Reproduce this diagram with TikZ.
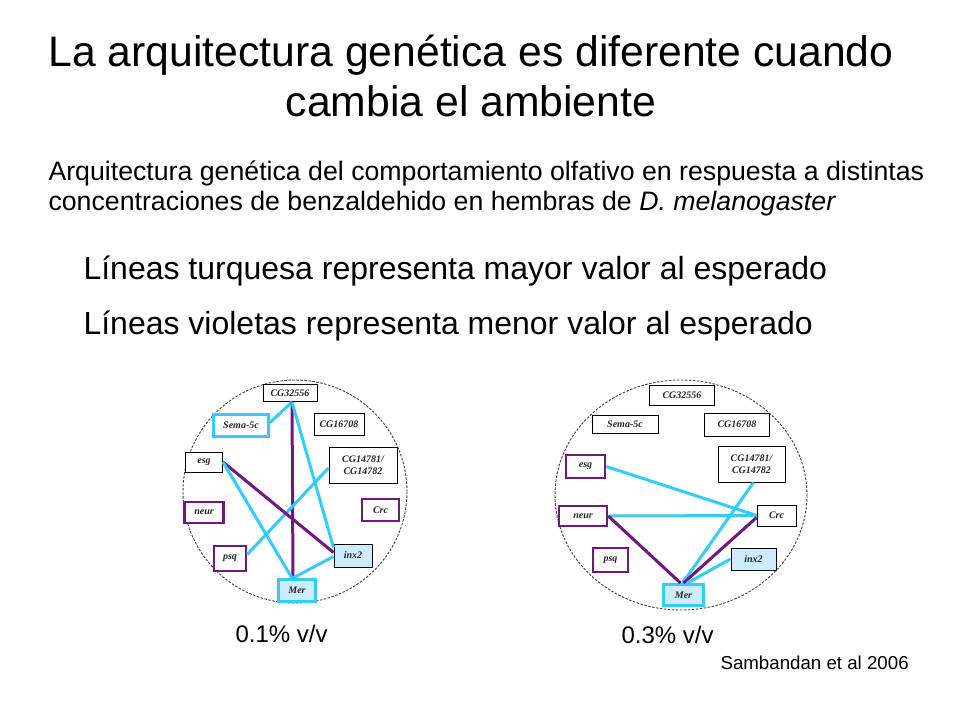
\documentclass[tikz,border=0pt]{standalone}
\usepackage{fontspec}
\setmainfont{Liberation Sans}
\newfontfamily\gfont{Liberation Serif}
\begin{document}
\begin{tikzpicture}[x=1pt,y=-1pt]
\definecolor{turq}{RGB}{51,204,255}
\definecolor{viol}{RGB}{112,24,128}
\definecolor{lblue}{RGB}{204,236,255}
\tikzset{
  gbox/.style={draw=black,line width=1pt,fill=white,inner sep=0pt,font=\gfont\bfseries\itshape\fontsize{10}{11.5}\selectfont,text=black!85,align=center},
  vbox/.style={gbox,draw=viol,line width=2.5pt},
  tbox/.style={gbox,draw=turq,line width=3pt},
  ibox/.style={gbox,fill=lblue},
  mbox/.style={gbox,draw=turq,line width=3pt,fill=lblue},
  tline/.style={draw=turq,line width=3pt},
  vline/.style={draw=viol,line width=3pt},
  ring/.style={draw=black!75,line width=0.9pt,dash pattern=on 2.5pt off 1.5pt},
  ttl/.style={anchor=base,font=\fontsize{42.7}{48}\selectfont},
  sub/.style={anchor=base west,font=\fontsize{26.7}{30}\selectfont},
  leg/.style={anchor=base west,font=\fontsize{32}{36}\selectfont},
  pcap/.style={anchor=base west,font=\fontsize{24}{28}\selectfont}
}
\useasboundingbox (0,0) rectangle (960,720);
\fill[white] (0,0) rectangle (960,720);

% texts
\node[ttl] (t1) at (471,66) {La arquitectura genética es diferente cuando};
\node[ttl] (t2) at (471,116) {cambia el ambiente};
\node[sub] (s1) at (45,180) {Arquitectura genética del comportamiento olfativo en respuesta a distintas};
\node[sub] (s2) at (45,210) {concentraciones de benzaldehido en hembras de \textit{D. melanogaster}};
\node[leg] (l1) at (80,279) {Líneas turquesa representa mayor valor al esperado};
\node[leg] (l2) at (80,334) {Líneas violetas representa menor valor al esperado};
\node[pcap] (c1) at (232,642) {0.1\% v/v};
\node[pcap] (c2) at (618,643) {0.3\% v/v};
\node[anchor=base west,font=\fontsize{18.7}{21}\selectfont] (ref) at (717,669) {Sambandan et al 2006};

% circles
\draw[ring] (295,491.5) ellipse [x radius=112, y radius=111.5];
\draw[ring] (681,495) ellipse [x radius=126, y radius=115];

% left network
\node[gbox,minimum width=54,minimum height=17] (lCG) at (290,393) {CG32556};
\node[tbox,minimum width=55,minimum height=22] (lSema) at (241,425.5) {Sema-5c};
\node[gbox,minimum width=50,minimum height=22] (lCG16) at (339,424) {CG16708};
\node[gbox,minimum width=68,minimum height=36] (lCG14) at (363,465) {CG14781/\\CG14782};
\node[gbox,minimum width=37,minimum height=20] (lEsg) at (204,462) {esg};
\node[vbox,minimum width=39,minimum height=21] (lNeur) at (204,512.5) {neur};
\node[vbox,minimum width=37,minimum height=22] (lCrc) at (380.5,510) {Crc};
\node[vbox,minimum width=32,minimum height=25] (lPsq) at (230,558.5) {psq};
\node[ibox,minimum width=38,minimum height=23] (lInx) at (353,555.5) {inx2};
\node[mbox,minimum width=37,minimum height=22] (lMer) at (297,590.5) {Mer};

\draw[tline] ([xshift=2]lCG.south) -- ([yshift=3]lSema.east);
\draw[vline] ([xshift=2]lCG.south) -- ([xshift=-4]lMer.north);
\draw[tline] ([xshift=2]lCG.south) -- ([yshift=-4]lInx.north west);
\draw[tline] ([yshift=-3]lCG14.west) -- ([yshift=4]lPsq.east);
\draw[vline] (lEsg.east) -- ([yshift=3]lInx.west);
\draw[tline] (lEsg.east) -- ([xshift=-5]lMer.north);
\draw[tline] ([yshift=-1]lInx.west) -- ([xshift=-4]lMer.north);

% right network
\node[gbox,minimum width=65,minimum height=20] (rCG) at (682,395) {CG32556};
\node[gbox,minimum width=66,minimum height=18] (rSema) at (625,424) {Sema-5c};
\node[gbox,minimum width=65,minimum height=23] (rCG16) at (737,424.5) {CG16708};
\node[gbox,minimum width=67,minimum height=36] (rCG14) at (751.5,464) {CG14781/\\CG14782};
\node[vbox,minimum width=39,minimum height=23] (rEsg) at (585.5,466.5) {esg};
\node[vbox,minimum width=48,minimum height=20] (rNeur) at (583,516) {neur};
\node[vbox,minimum width=35,minimum height=24] (rPsq) at (610.5,560) {psq};
\node[gbox,minimum width=39,minimum height=21] (rCrc) at (776.5,515.5) {Crc};
\node[ibox,minimum width=45,minimum height=22] (rInx) at (753.5,559) {inx2};
\node[mbox,minimum width=40,minimum height=21] (rMer) at (683.5,595) {Mer};

\draw[tline] (rEsg.east) -- (rCrc.west);
\draw[tline] (rNeur.east) -- (rCrc.west);
\draw[vline] (rNeur.east) -- ([xshift=-3]rMer.north);
\draw[tline] ([xshift=2]rCG14.south) -- ([xshift=-1]rMer.north);
\draw[vline] ([yshift=-2]rCrc.west) -- (rMer.north);
\draw[tline] (rInx.west) -- ([xshift=4]rMer.north);
\end{tikzpicture}
\end{document}
